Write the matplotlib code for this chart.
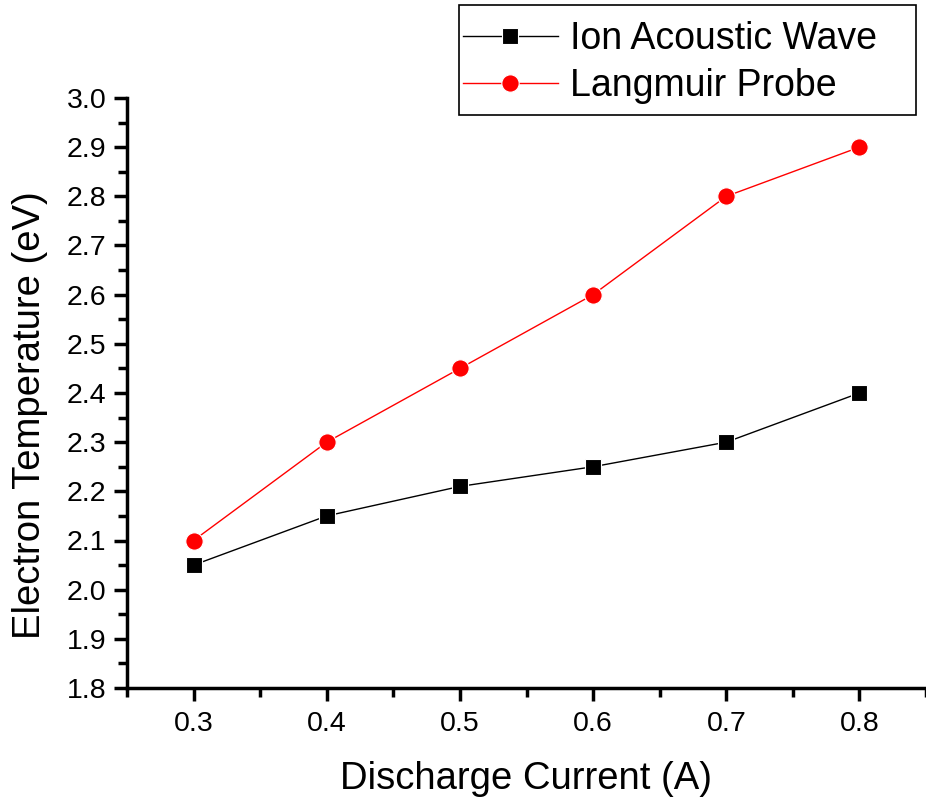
import matplotlib.pyplot as plt
from matplotlib.patches import Rectangle
from matplotlib.ticker import MultipleLocator

plt.rcParams['font.family'] = ['Liberation Sans', 'DejaVu Sans']

current = [0.3, 0.4, 0.5, 0.6, 0.7, 0.8]
ion_acoustic = [2.05, 2.15, 2.21, 2.25, 2.30, 2.40]
langmuir = [2.10, 2.30, 2.45, 2.60, 2.80, 2.90]

W, H = 926, 797
fig = plt.figure(figsize=(W / 100, H / 100), dpi=100)
ax = fig.add_axes([127 / W, 109 / H, 1 - 127 / W, 590 / H])

ax.plot(current, ion_acoustic, color='black', lw=1, marker='s', ms=11,
        mec='white', mew=0.8, label='Ion Acoustic Wave')
ax.plot(current, langmuir, color='red', lw=1, marker='o', ms=12.5,
        mec='white', mew=0.8, label='Langmuir Probe')

ax.set_xlim(0.25, 0.85)
ax.set_ylim(1.8, 3.0)
ax.xaxis.set_major_locator(MultipleLocator(0.1))
ax.xaxis.set_minor_locator(MultipleLocator(0.05))
ax.yaxis.set_major_locator(MultipleLocator(0.1))
ax.yaxis.set_minor_locator(MultipleLocator(0.05))

for s in ['top', 'right']:
    ax.spines[s].set_visible(False)
for s in ['left', 'bottom']:
    ax.spines[s].set_linewidth(2.5)

ax.tick_params(which='major', direction='out', length=9.5, width=2.5,
               labelsize=20.5)
ax.tick_params(which='minor', direction='out', length=6.5, width=2.5)
ax.tick_params(axis='y', which='major', pad=5.5)
ax.tick_params(axis='x', which='major', pad=7)

ax.set_xlabel('Discharge Current (A)', fontsize=27.5, labelpad=17)
ax.set_ylabel('Electron Temperature (eV)', fontsize=27.5)
ax.yaxis.set_label_coords(-0.099, 0.463)

# legend frame drawn separately (Origin-style box with wide right margin)
fig.patches.append(Rectangle((459 / W, 1 - 115 / H), 457 / W, 110 / H,
                             transform=fig.transFigure, fill=False,
                             edgecolor='black', lw=1.2))
fig.legend(loc='upper left', bbox_to_anchor=(463 / W, 1 - 21 / H),
           fontsize=27, frameon=False, handlelength=2.53,
           handletextpad=0.32, borderpad=0, borderaxespad=0,
           labelspacing=0.3)

fig.savefig('out.png', dpi=100)
